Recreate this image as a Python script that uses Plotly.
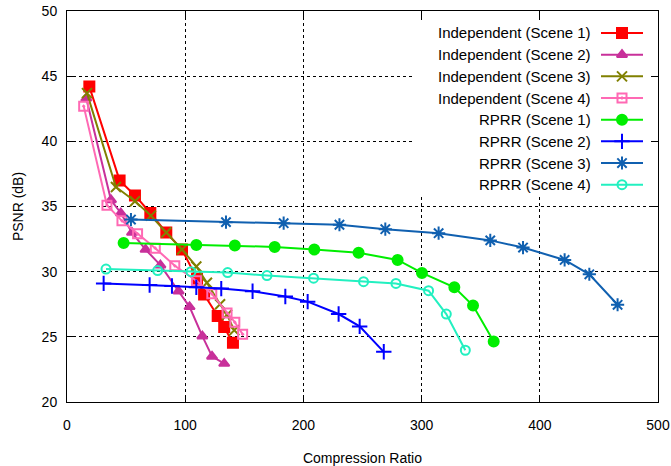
import plotly.graph_objects as go

# ---- data ----
ind1_x = [18.9, 44.5, 57.5, 70.5, 84.0, 97.3, 110.0, 116.0, 127.5, 133.0, 140.4]
ind1_y = [44.2, 37.0, 35.85, 34.5, 33.0, 31.7, 29.45, 28.25, 26.6, 25.75, 24.55]
ind2_x = [16.3, 37.2, 45.5, 55.0, 66.5, 79.0, 94.4, 103.7, 114.5, 122.7, 133.0]
ind2_y = [43.3, 35.5, 34.5, 33.0, 31.7, 30.5, 28.5, 27.3, 25.05, 23.5, 22.95]
ind3_x = [16.9, 41.4, 57.5, 71.0, 84.0, 97.3, 109.4, 118.4, 129.5, 135.4, 141.5]
ind3_y = [43.7, 36.5, 35.4, 34.3, 33.0, 31.7, 30.4, 29.15, 27.5, 26.7, 25.5]
ind4_x = [14.1, 33.8, 46.5, 59.7, 74.7, 91.2, 109.5, 122.5, 135.4, 142.0, 148.6]
ind4_y = [42.7, 35.1, 33.9, 32.9, 31.8, 30.45, 29.3, 28.3, 26.82, 26.12, 25.2]
rp1_x = [47.9, 109.4, 142.0, 175.7, 209.2, 246.7, 279.7, 300.3, 327.7, 343.5, 361.0]
rp1_y = [32.2, 32.05, 32.0, 31.9, 31.7, 31.45, 30.9, 29.9, 28.8, 27.4, 24.65]
rp2_x = [31.0, 69.9, 88.8, 109.4, 130.5, 157.0, 184.7, 203.6, 229.8, 247.6, 268.0]
rp2_y = [29.1, 28.98, 28.9, 28.8, 28.7, 28.5, 28.1, 27.7, 26.75, 25.8, 23.85]
rp3_x = [54.1, 134.5, 183.3, 230.5, 269.3, 314.4, 358.1, 385.8, 421.0, 441.9, 465.8]
rp3_y = [34.0, 33.8, 33.72, 33.6, 33.26, 32.95, 32.4, 31.85, 30.9, 29.8, 27.46]
rp4_x = [33.0, 76.7, 104.9, 135.9, 169.2, 208.6, 250.9, 278.3, 305.9, 320.9, 337.0]
rp4_y = [30.2, 30.08, 30.0, 29.93, 29.7, 29.5, 29.23, 29.1, 28.54, 26.75, 23.97]

names = ["Independent (Scene 1)", "Independent (Scene 2)", "Independent (Scene 3)",
         "Independent (Scene 4)", "RPRR (Scene 1)", "RPRR (Scene 2)",
         "RPRR (Scene 3)", "RPRR (Scene 4)"]
xs = [ind1_x, ind2_x, ind3_x, ind4_x, rp1_x, rp2_x, rp3_x, rp4_x]
ys = [ind1_y, ind2_y, ind3_y, ind4_y, rp1_y, rp2_y, rp3_y, rp4_y]

x_ticks = [0, 100, 200, 300, 400, 500]
y_ticks = [20, 25, 30, 35, 40, 45, 50]
x_range = [0, 500]
y_range = [20, 50]

# ---- styles ----
colors = ["#ff0000", "#c8309a", "#808000", "#ff69b4",
          "#00ee00", "#0000ff", "#1060b0", "#22f0c0"]
symbols = ["square", "triangle-up", "x-thin-open", "square-open-dot",
           "circle", "cross-thin-open", "asterisk-open", "circle-open"]
sizes = [10, 9, 10, 9, 10, 11, 11, 9]

FONT = "Liberation Sans, Arial, sans-serif"

fig = go.Figure()
for n, x, y, c, s, sz in zip(names, xs, ys, colors, symbols, sizes):
    fig.add_trace(go.Scatter(
        x=x, y=y, mode="lines+markers", name=n, showlegend=False,
        line=dict(color=c, width=2),
        marker=dict(symbol=s, size=sz, color=c, line=dict(color=c, width=2)),
    ))

# ---- gnuplot-style key (text right, sample at the right) ----
W, H = 671, 466
L, R, T, B = 67, 13, 11, 64
pw, ph = W - L - R, H - T - B


def px2paper_x(px):
    return (px - L) / pw


def py2paper_y(py):
    return (H - B - py) / ph


def px2data_x(px):
    return x_range[0] + px2paper_x(px) * (x_range[1] - x_range[0])


def py2data_y(py):
    return y_range[0] + py2paper_y(py) * (y_range[1] - y_range[0])


row0, rowstep = 33.0, 21.67
for i, (n, c, s, sz) in enumerate(zip(names, colors, symbols, sizes)):
    yy = py2paper_y(row0 + rowstep * i)
    fig.add_trace(go.Scatter(
        x=[px2paper_x(601), px2paper_x(622), px2paper_x(643)], y=[yy, yy, yy],
        xaxis="x2", yaxis="y2", mode="lines+markers", showlegend=False,
        hoverinfo="skip",
        line=dict(color=c, width=2),
        marker=dict(symbol=s, size=sz, color=c, opacity=[0, 1, 0],
                    line=dict(color=c, width=2)),
    ))
    fig.add_annotation(
        xref="paper", yref="paper", x=px2paper_x(593), y=yy,
        text=n, showarrow=False, xanchor="right", yanchor="middle",
        font=dict(family=FONT, size=15, color="black"),
    )

# white key box hiding the grid
fig.add_shape(type="rect", xref="x", yref="y",
              x0=px2data_x(413), x1=px2data_x(651),
              y0=py2data_y(194), y1=py2data_y(20),
              fillcolor="white", line=dict(width=0), layer="between")

axis_common = dict(
    showline=True, linecolor="black", linewidth=1, mirror="allticks",
    ticks="inside", ticklen=7, tickcolor="black", tickwidth=1,
    showgrid=True, gridcolor="black", gridwidth=1, griddash="dot",
    zeroline=False, automargin=False,
    tickfont=dict(family=FONT, size=14, color="black"),
)

fig.update_layout(
    width=W, height=H,
    margin=dict(l=L, r=R, t=T, b=B),
    paper_bgcolor="white", plot_bgcolor="white",
    font=dict(family=FONT, size=14, color="black"),
    xaxis=dict(range=x_range, tickvals=x_ticks, ticklabelstandoff=10,
               title=dict(text="Compression Ratio", standoff=21,
                          font=dict(family=FONT, size=14)),
               **axis_common),
    yaxis=dict(range=y_range, tickvals=y_ticks, ticklabelstandoff=6,
               title=dict(text="PSNR (dB)", standoff=14,
                          font=dict(family=FONT, size=14)),
               **axis_common),
    xaxis2=dict(overlaying="x", range=[0, 1], visible=False, fixedrange=True),
    yaxis2=dict(overlaying="y", range=[0, 1], visible=False, fixedrange=True),
    showlegend=False,
)

fig.write_html(
    "out.html",
    config={"displayModeBar": False},
    post_script="document.body.style.margin='0';document.body.style.overflow='hidden';",
)
